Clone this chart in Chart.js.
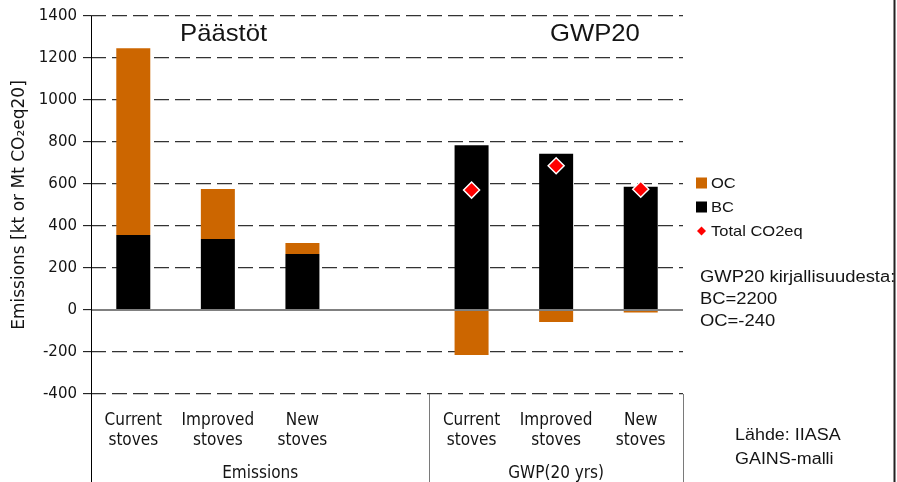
<!DOCTYPE html>
<html>
<head>
<meta charset="utf-8">
<title>Päästöt ja GWP20</title>
<script src="https://cdn.jsdelivr.net/npm/chart.js@4.4.1/dist/chart.umd.min.js"></script>
<style>
  html, body { margin: 0; padding: 0; background: #fff; }
  #wrap { position: relative; width: 897px; height: 482px; }
</style>
</head>
<body>
<div id="wrap"><canvas id="c" width="897" height="482"></canvas></div>
<script>
// ---- data ----
const categories = ['Current stoves', 'Improved stoves', 'New stoves', '', 'Current stoves', 'Improved stoves', 'New stoves'];
const groupLabels = ['Emissions', 'GWP(20 yrs)'];
const groupFirstIndex = [0, 4];
const ocValues = [890, 238, 52, null, -214, -57, -12];
const bcValues = [357, 338, 267, null, 785, 744, 587];
const totalCO2eq = [null, null, null, null, 571, 687, 575];
const yMin = -400, yMax = 1400, yStep = 200;
const panelTitles = ['Päästöt', 'GWP20'];
const noteLines = ['GWP20 kirjallisuudesta:', 'BC=2200', 'OC=-240'];
const sourceLines = ['Lähde: IIASA', 'GAINS-malli'];

const OC_COLOR = '#cc6600';
const BC_COLOR = '#000000';
const TOTAL_COLOR = '#ff0000';
const TEXT = '#141414';
const SANS = "'Liberation Sans', Arial, sans-serif";
const AXIS_FONT = "'DejaVu Sans', Verdana, sans-serif";
const CAT_FONT = "'DejaVu Sans Condensed', 'DejaVu Sans', sans-serif";

// text drawn slightly widened horizontally
function wideText(ctx, text, x, y, sx) {
  ctx.save();
  ctx.translate(x, y);
  ctx.scale(sx, 1);
  ctx.fillText(text, 0, 0);
  ctx.restore();
}

const decor = {
  id: 'decor',
  afterDatasetsDraw(chart) {
    const { ctx, chartArea: a, scales: { x, y } } = chart;
    ctx.save();

    // zero axis line over the bars
    const y0 = Math.round(y.getPixelForValue(0));
    ctx.strokeStyle = '#808080';
    ctx.lineWidth = 2;
    ctx.beginPath();
    ctx.moveTo(a.left, y0);
    ctx.lineTo(a.right, y0);
    ctx.stroke();

    // vertical value axis, running down through the category labels
    ctx.strokeStyle = '#000';
    ctx.lineWidth = 1;
    ctx.beginPath();
    ctx.moveTo(a.left + 0.5, a.top);
    ctx.lineTo(a.left + 0.5, chart.height);
    ctx.stroke();

    // group separators and group labels
    const n = categories.length;
    const edge = i => (i <= 0) ? a.left : (i >= n ? a.right : (x.getPixelForValue(i - 1) + x.getPixelForValue(i)) / 2);
    ctx.strokeStyle = '#7a7a7a';
    ctx.lineWidth = 1;
    const bounds = groupFirstIndex.concat([n]);
    for (let g = 1; g < bounds.length; g++) {
      const px = Math.round(edge(bounds[g])) + 0.5;
      ctx.beginPath();
      ctx.moveTo(px, a.bottom);
      ctx.lineTo(px, chart.height);
      ctx.stroke();
    }
    ctx.fillStyle = TEXT;
    ctx.font = "17px " + CAT_FONT;
    ctx.textAlign = 'center';
    ctx.textBaseline = 'middle';
    for (let g = 0; g < groupLabels.length; g++) {
      const cx = (edge(bounds[g]) + edge(bounds[g + 1])) / 2;
      ctx.fillText(groupLabels[g], cx, a.bottom + 80);
    }

    // panel titles
    ctx.textAlign = 'left';
    ctx.textBaseline = 'alphabetic';
    ctx.font = '24px ' + SANS;
    wideText(ctx, panelTitles[0], 180, 41, 1.07);
    wideText(ctx, panelTitles[1], 550, 41, 1.07);

    // legend
    const legendItems = [
      { label: chart.data.datasets[2].label, kind: 'box', color: OC_COLOR },
      { label: chart.data.datasets[1].label, kind: 'box', color: BC_COLOR },
      { label: chart.data.datasets[0].label, kind: 'diamond', color: TOTAL_COLOR }
    ];
    ctx.font = '15px ' + SANS;
    ctx.textBaseline = 'middle';
    legendItems.forEach((it, i) => {
      const cy = 183 + i * 24;
      ctx.fillStyle = it.color;
      if (it.kind === 'box') {
        ctx.fillRect(696, cy - 5.5, 11, 11);
      } else {
        ctx.beginPath();
        ctx.moveTo(701.5, cy - 4.5);
        ctx.lineTo(706, cy);
        ctx.lineTo(701.5, cy + 4.5);
        ctx.lineTo(697, cy);
        ctx.closePath();
        ctx.fill();
      }
      ctx.fillStyle = TEXT;
      wideText(ctx, it.label, 711, cy + 1, 1.1);
    });

    // notes
    ctx.textBaseline = 'alphabetic';
    ctx.font = '16px ' + SANS;
    noteLines.forEach((t, i) => wideText(ctx, t, 700, 282 + i * 22, 1.15));
    sourceLines.forEach((t, i) => wideText(ctx, t, 735, 440 + i * 24, 1.12));

    // outer frame line at the right
    ctx.strokeStyle = '#222';
    ctx.lineWidth = 2;
    ctx.beginPath();
    ctx.moveTo(894.5, 0);
    ctx.lineTo(894.5, chart.height);
    ctx.stroke();

    ctx.restore();
  }
};

new Chart(document.getElementById('c'), {
  type: 'bar',
  data: {
    labels: categories.map(c => c ? c.split(' ') : ''),
    datasets: [
      {
        type: 'line',
        label: 'Total CO2eq',
        data: totalCO2eq,
        stack: 'total',
        order: 0,
        showLine: false,
        pointStyle: 'rectRot',
        pointRadius: 8,
        pointBackgroundColor: TOTAL_COLOR,
        pointBorderColor: '#ffffff',
        pointBorderWidth: 1.5
      },
      {
        label: 'BC',
        data: bcValues,
        backgroundColor: BC_COLOR,
        stack: 'a',
        order: 1,
        barPercentage: 0.402,
        categoryPercentage: 1
      },
      {
        label: 'OC',
        data: ocValues,
        backgroundColor: OC_COLOR,
        stack: 'a',
        order: 1,
        barPercentage: 0.402,
        categoryPercentage: 1
      }
    ]
  },
  options: {
    responsive: false,
    animation: false,
    devicePixelRatio: 1,
    layout: { padding: { left: 0, right: 214, top: 16, bottom: 0 } },
    plugins: { legend: { display: false }, tooltip: { enabled: false } },
    scales: {
      x: {
        stacked: true,
        grid: { display: false, drawTicks: false },
        border: { display: false },
        ticks: {
          autoSkip: false,
          maxRotation: 0,
          minRotation: 0,
          padding: 17,
          color: TEXT,
          font: { family: CAT_FONT, size: 17, lineHeight: 20 / 17 }
        },
        afterFit(s) { s.height = 88; }
      },
      y: {
        stacked: true,
        min: yMin,
        max: yMax,
        ticks: {
          stepSize: yStep,
          padding: 6,
          color: TEXT,
          font: { family: AXIS_FONT, size: 15 },
          callback: v => String(v)
        },
        grid: {
          color: c => (c.tick && c.tick.value === 0) ? 'rgba(0,0,0,0)' : '#333333',
          lineWidth: 1.3,
          drawTicks: true,
          tickLength: 8,
          tickColor: '#000000',
          tickWidth: 1,
          tickBorderDash: []
        },
        border: { display: false, dash: [15, 6] },
        title: {
          display: true,
          text: 'Emissions [kt or Mt CO₂eq20]',
          color: TEXT,
          font: { family: AXIS_FONT, size: 17 },
          padding: { top: 9, bottom: 0 }
        },
        afterFit(s) { s.width = 91; }
      }
    }
  },
  plugins: [decor]
});
</script>
</body>
</html>
